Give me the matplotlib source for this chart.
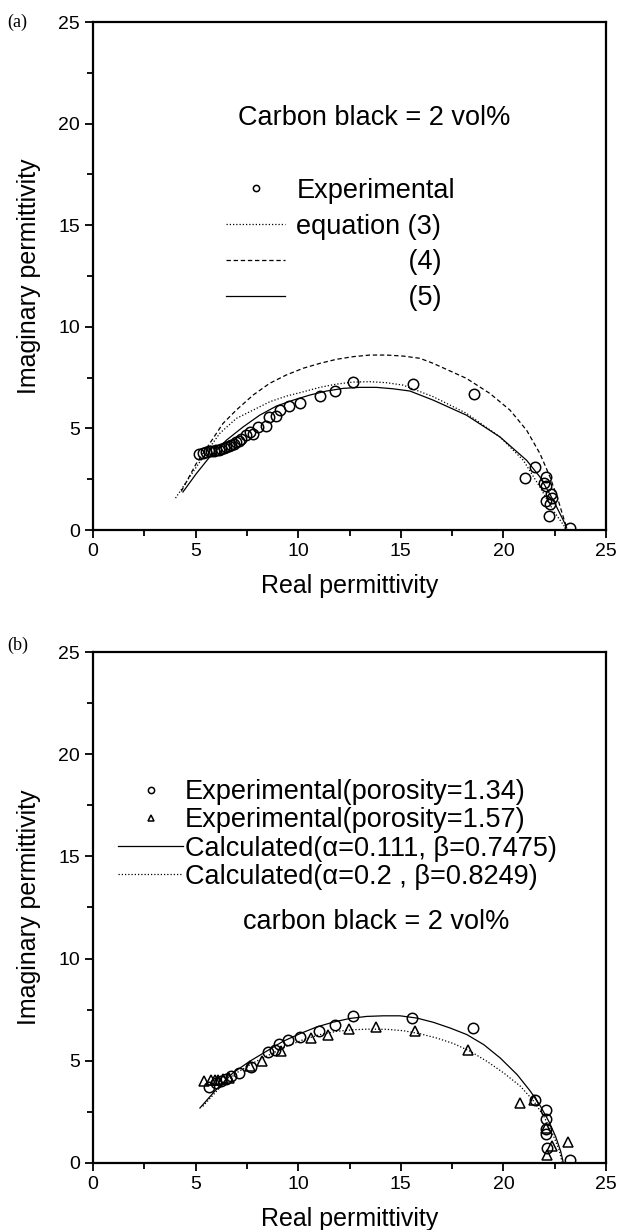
import matplotlib.pyplot as plt
from matplotlib.ticker import MultipleLocator

plt.rcParams['font.family'] = ['Liberation Sans', 'DejaVu Sans']

# ---- panel (a): carbon black 2 vol%, measured vs equations (3)-(5) ----
exp_a_real = [5.16, 5.35, 5.52, 5.65, 5.77, 5.9, 6.01, 6.13, 6.25, 6.38, 6.5, 6.62,
              6.74, 6.86, 6.98, 7.1, 7.23, 7.45, 7.63, 7.8, 8.04, 8.41, 8.56, 8.9,
              9.13, 9.54, 10.1, 11.05, 11.81, 12.68, 15.6, 18.56, 21.06, 21.55,
              22.06, 21.98, 22.07, 22.3, 22.35, 22.06, 22.27, 22.22, 23.26]
exp_a_imag = [3.73, 3.78, 3.84, 3.87, 3.89, 3.9, 3.92, 3.95, 4.0, 4.05, 4.09, 4.12,
              4.17, 4.25, 4.33, 4.4, 4.5, 4.7, 4.83, 4.74, 5.07, 5.11, 5.54, 5.6,
              5.93, 6.1, 6.26, 6.59, 6.84, 7.27, 7.17, 6.67, 2.58, 3.1,
              2.61, 2.31, 2.16, 1.75, 1.59, 1.41, 1.29, 0.68, 0.11]

eq3_real = [4.02, 4.71, 5.36, 6.17, 6.98, 7.8, 8.61, 9.42, 10.24, 11.05, 11.86,
            12.67, 13.49, 14.3, 15.11, 16.58, 18.2, 19.83, 20.97, 21.78, 22.43, 23.0]
eq3_imag = [1.57, 2.61, 3.59, 4.75, 5.49, 5.9, 6.31, 6.59, 6.8, 7.02, 7.18,
            7.28, 7.3, 7.25, 7.13, 6.56, 5.74, 4.58, 3.43, 2.11, 0.96, 0.14]

eq4_real = [4.3, 5.03, 5.68, 6.33, 6.98, 7.8, 8.61, 9.42, 10.24, 11.05, 11.86, 12.67,
            13.49, 14.3, 15.11, 15.93, 16.58, 18.2, 19.34, 20.32, 21.13, 21.78,
            22.27, 22.67, 22.92, 23.08]
eq4_imag = [1.9, 3.27, 4.25, 5.24, 5.9, 6.64, 7.22, 7.63, 7.96, 8.2, 8.4, 8.53,
            8.61, 8.61, 8.56, 8.45, 8.2, 7.46, 6.72, 5.9, 4.91, 3.76,
            2.61, 1.46, 0.63, 0.11]

eq5_real = [4.38, 5.03, 5.68, 6.5, 7.31, 8.12, 8.94, 9.75, 10.56, 11.38, 12.19, 13.0,
            13.81, 14.62, 15.44, 16.58, 18.2, 19.83, 21.13, 21.78, 22.43, 23.0, 23.08]
eq5_imag = [1.87, 2.77, 3.59, 4.42, 5.07, 5.65, 6.1, 6.39, 6.64, 6.84, 6.97, 7.02,
            7.02, 6.95, 6.84, 6.39, 5.65, 4.58, 3.43, 2.61, 1.46, 0.31, 0.1]

# ---- panel (b): two porosities vs calculated curves ----
p134_real = [5.64, 6.0, 6.24, 6.49, 6.73, 7.12, 7.71, 8.52, 8.85, 9.08, 9.5, 10.07,
             11.03, 11.77, 12.65, 15.53, 18.51, 21.56, 22.05, 22.05, 22.09, 22.09,
             22.13, 23.24]
p134_imag = [3.73, 3.91, 4.0, 4.11, 4.24, 4.38, 4.71, 5.41, 5.54, 5.84, 6.0, 6.17,
             6.48, 6.73, 7.17, 7.09, 6.6, 3.1, 2.61, 2.15, 1.66, 1.43,
             0.73, 0.16]

p157_real = [5.43, 5.75, 5.92, 6.08, 6.32, 6.65, 7.67, 8.22, 9.18, 10.61, 11.46,
             12.46, 13.79, 15.7, 18.26, 20.83, 21.48, 22.05, 22.35, 22.13, 23.16]
p157_imag = [4.01, 4.04, 4.04, 4.07, 4.11, 4.14, 4.73, 4.97, 5.49, 6.11, 6.26,
             6.56, 6.67, 6.47, 5.54, 2.93, 3.1, 1.71, 0.85, 0.41, 1.01]

calc1_real = [5.21, 6.0, 6.81, 7.63, 8.44, 9.26, 10.07, 10.89, 11.7, 12.51, 13.33,
              14.14, 14.96, 15.78, 16.59, 17.41, 18.22, 19.04, 19.85, 20.67, 21.32,
              21.81, 22.21, 22.54, 22.79, 22.92]
calc1_imag = [2.69, 3.59, 4.4, 4.97, 5.46, 5.95, 6.32, 6.65, 6.89, 7.07, 7.17,
              7.2, 7.2, 7.09, 6.88, 6.6, 6.28, 5.79, 5.13, 4.32, 3.5,
              2.77, 2.04, 1.3, 0.57, 0.0]

calc2_real = [5.35, 6.16, 6.98, 7.79, 8.61, 9.42, 10.24, 11.05, 11.87, 12.68, 13.5,
              14.31, 15.13, 15.94, 16.76, 17.57, 18.39, 19.2, 20.02, 20.83, 21.48,
              21.97, 22.38, 22.71, 22.87]
calc2_imag = [2.77, 3.67, 4.4, 4.89, 5.3, 5.7, 6.03, 6.28, 6.44, 6.52, 6.55,
              6.54, 6.47, 6.32, 6.11, 5.84, 5.46, 4.97, 4.4, 3.75, 3.02,
              2.28, 1.47, 0.65, 0.0]

DOT = (0, (1, 1.6))
DASH = (0, (3.5, 2.2))
MK = dict(mfc='none', mec='black', ms=7.5, mew=1.1, ls='none')
TXT = 19.5


def style_axes(ax):
    ax.set_xlim(0, 25)
    ax.set_ylim(0, 25)
    for axis in (ax.xaxis, ax.yaxis):
        axis.set_major_locator(MultipleLocator(5))
        axis.set_minor_locator(MultipleLocator(2.5))
    ax.tick_params(which='both', direction='out', top=False, right=False,
                   width=1.3, labelsize=14)
    ax.tick_params(which='major', length=6)
    ax.tick_params(which='minor', length=4)
    for s in ax.spines.values():
        s.set_linewidth(1.6)
    ax.set_xlabel('Real permittivity', fontsize=18, labelpad=10)
    ax.set_ylabel('Imaginary permittivity', fontsize=18, labelpad=12)


fig = plt.figure(figsize=(6.29, 12.30), dpi=100)
ax1 = fig.add_axes([0.1479, 0.5691, 0.8156, 0.4130])
ax2 = fig.add_axes([0.1479, 0.0545, 0.8156, 0.4154])

# (a)
h_exp, = ax1.plot(exp_a_real, exp_a_imag, marker='o', label='Experimental', **MK)
h3, = ax1.plot(eq3_real, eq3_imag, color='black', lw=0.9, ls=DOT, label='equation (3)')
h4, = ax1.plot(eq4_real, eq4_imag, color='black', lw=0.9, ls=DASH, label=' ' * 15 + '(4)')
h5, = ax1.plot(eq5_real, eq5_imag, color='black', lw=0.9, label=' ' * 15 + '(5)')
style_axes(ax1)
ax1.legend(handles=[h_exp, h3, h4, h5], loc='upper left', bbox_to_anchor=(0.259, 0.693),
           frameon=False, fontsize=TXT, handlelength=2.2, handletextpad=0.4,
           labelspacing=0.36, borderpad=0, borderaxespad=0, markerscale=0.6)
ax1.text(7.05, 20.3, 'Carbon black = 2 vol%', fontsize=TXT, ha='left', va='center')
fig.text(0.012, 0.982, '(a)', family='Liberation Serif', fontsize=13, va='center')

# (b)
hc1, = ax2.plot(p134_real, p134_imag, marker='o', label='Experimental(porosity=1.34)', **MK)
ht1, = ax2.plot(p157_real, p157_imag, marker='^', label='Experimental(porosity=1.57)', **MK)
hl1, = ax2.plot(calc1_real, calc1_imag, color='black', lw=0.9,
                label='Calculated(\u03b1=0.111, \u03b2=0.7475)')
hl2, = ax2.plot(calc2_real, calc2_imag, color='black', lw=0.9, ls=DOT,
                label='Calculated(\u03b1=0.2 , \u03b2=0.8249)')
style_axes(ax2)
ax2.legend(handles=[hc1, ht1, hl1, hl2], loc='upper left', bbox_to_anchor=(0.049, 0.751),
           frameon=False, fontsize=TXT, handlelength=2.4, handletextpad=0.05,
           labelspacing=0.08, borderpad=0, borderaxespad=0, markerscale=0.6)
ax2.text(7.3, 11.8, 'carbon black = 2 vol%', fontsize=TXT, ha='left', va='center')
fig.text(0.012, 0.475, '(b)', family='Liberation Serif', fontsize=13, va='center')

fig.savefig('out.png', dpi=100)
